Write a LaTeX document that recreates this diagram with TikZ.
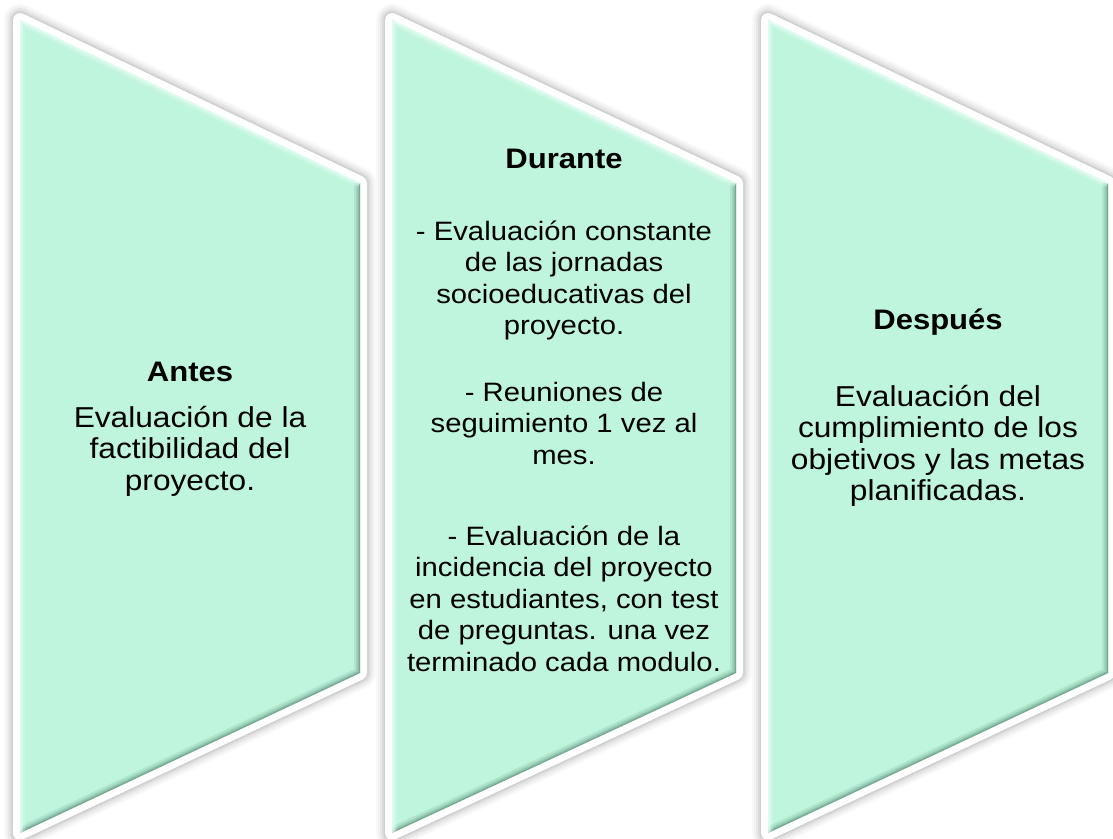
\documentclass[tikz,border=0pt]{standalone}
\usepackage{fontspec}
\setmainfont{Liberation Sans}[FakeStretch=1.1]
\definecolor{mint}{RGB}{190,245,220}
\definecolor{bevdark}{RGB}{70,120,98}
\definecolor{bevlight}{RGB}{235,255,248}
\tikzset{
  body/.style={font=\fontsize{28.8}{31.5}\selectfont, anchor=base, inner sep=0pt},
  bodysm/.style={font=\fontsize{26.6}{31.5}\selectfont, anchor=base, inner sep=0pt},
  ttl/.style={font=\fontsize{28.2}{31.5}\selectfont\bfseries, anchor=base, inner sep=0pt},
}
\newcommand\drawstage[3]{%
  \coordinate (#3a) at (#1,20);
  \coordinate (#3b) at (#2,183);
  \coordinate (#3c) at (#2,673);
  \coordinate (#3d) at (#1,833);
  \foreach \w/\o in {32/0.025,28/0.03,24/0.04,20/0.05,17/0.06}
    \draw[line width=\w pt, line join=round, black, opacity=\o, shift={(1,2)}]
      (#3a)--(#3b)--(#3c)--(#3d)--cycle;
  \draw[white, line width=14pt, line join=round] (#3a)--(#3b)--(#3c)--(#3d)--cycle;
  \fill[mint] (#3a)--(#3b)--(#3c)--(#3d)--cycle;
  \begin{scope}
    \clip (#3a)--(#3b)--(#3c)--(#3d)--cycle;
    \foreach \w/\o in {12/0.12,8/0.15,5/0.2,2.5/0.3}
      \draw[bevdark, line width=\w pt, opacity=\o, line join=miter] (#3b)--(#3c)--(#3d);
    \foreach \w/\o in {10/0.25,6/0.35,3/0.5}
      \draw[bevlight, line width=\w pt, opacity=\o, line join=miter] (#3d)--(#3a)--(#3b);
  \end{scope}
}
\begin{document}
\begin{tikzpicture}[x=1pt, y=-1pt]
\useasboundingbox (0,0) rectangle (1113,838);
\drawstage{20}{360}{s1}
\drawstage{392}{736}{s2}
\drawstage{768}{1108}{s3}

% Antes
\node[ttl] (antes) at (190,381) {Antes};
\foreach [count=\i from 0] \t in {Evaluación de la, factibilidad del, proyecto.}
  \node[body] (ab\i) at (190,427+31.5*\i) {\t};

% Durante
\node[ttl] (durante) at (564,168) {Durante};
\foreach [count=\i from 0] \t in {- Evaluación constante, de las jornadas, socioeducativas del, proyecto.}
  \node[bodysm] (dp\i) at (564,240+31.5*\i) {\t};
\foreach [count=\i from 0] \t in {- Reuniones de, seguimiento 1 vez al, mes.}
  \node[bodysm] (dq\i) at (564,401+31.5*\i) {\t};
\foreach [count=\i from 0] \t in {- Evaluación de la, incidencia del proyecto, {en estudiantes, con test}, de preguntas. una vez, terminado cada modulo.}
  \node[bodysm] (dr\i) at (564,545+31.5*\i) {\t};

% Despues
\node[ttl] (despues) at (938,329) {Después};
\foreach [count=\i from 0] \t in {Evaluación del, cumplimiento de los, objetivos y las metas, planificadas.}
  \node[body] (db\i) at (938,406+31.5*\i) {\t};
\end{tikzpicture}
\end{document}
